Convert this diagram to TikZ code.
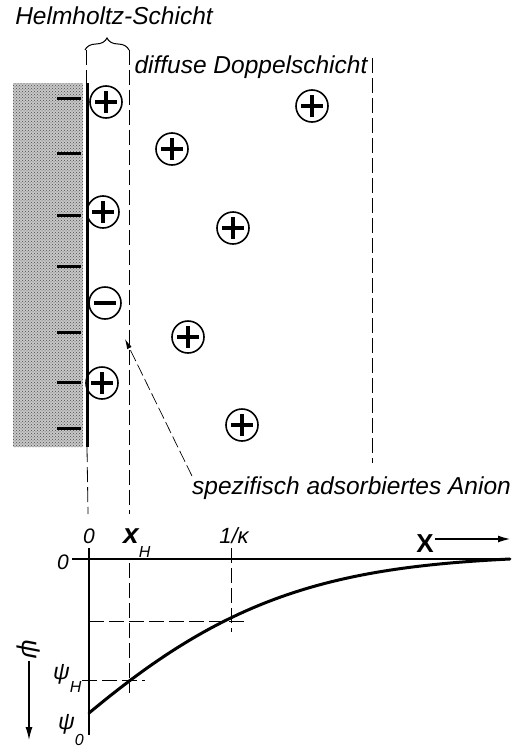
\documentclass[tikz,border=0pt]{standalone}
\usepackage{fontspec}
\setmainfont{Liberation Sans}
\usetikzlibrary{arrows.meta,decorations.pathreplacing,patterns}

\begin{document}
\begin{tikzpicture}[x=1pt,y=-1pt,
   font=\fontsize{24.5}{27}\selectfont\itshape,
   guide/.style={line width=0.8pt,dash pattern=on 15pt off 5pt},
   axisline/.style={line width=2.4pt},
   ion/.style={circle,draw,line width=1.6pt,minimum size=32pt,inner sep=0pt},
   cation/.style={ion,path picture={
       \draw[line width=3.2pt] ([xshift=-11pt]path picture bounding box.center) -- ++(22pt,0pt)
                               ([yshift=-11pt]path picture bounding box.center) -- ++(0pt,22pt);}},
   anion/.style={ion,path picture={
       \draw[line width=3.2pt] ([xshift=-11pt]path picture bounding box.center) -- ++(22pt,0pt);}}]
  \fill[white] (0,0) rectangle (513,747);
  \useasboundingbox (0,0) rectangle (513,747);

  % electrode with its negative charges
  \fill[black!22] (13,83) rectangle (83,447);
  \fill[pattern=crosshatch dots,pattern color=black!70] (13,83) rectangle (83,447);
  \draw[line width=3pt] (87,83) -- (87,447);
  \foreach \y in {98,153,215,266,332,382,428}
    \draw[line width=3pt] (57,\y) -- (81,\y);

  % layer boundaries
  \draw[guide] (86,50) -- (86,83);
  \draw[guide] (87,447) -- (88,514);
  \draw[guide] (129,50) -- (129,514);
  \draw[guide] (372,58) -- (372,463);
  \draw[decorate,decoration={brace,amplitude=12pt},line width=1pt] (85,50) -- (129,50);

  \node[anchor=base] (helm) at (114,24) {Helmholtz-Schicht};
  \node[anchor=base west] (diff) at (131,73) {diffuse Doppelschicht};

  % ions
  \node[cation] (c1) at (106,102) {};
  \node[cation] (c2) at (172,149) {};
  \node[cation] (c3) at (312,106) {};
  \node[cation] (c4) at (103,212) {};
  \node[cation] (c5) at (233,228) {};
  \node[anion]  (a1) at (105,303) {};
  \node[cation] (c6) at (188,337) {};
  \node[cation] (c7) at (102,383) {};
  \node[cation] (c8) at (242,425) {};

  \node[anchor=base west,inner sep=0pt] (spez) at (192,494) {spezifisch adsorbiertes Anion};
  \coordinate (tip) at (125,339);
  \draw[line width=0.7pt,dash pattern=on 12pt off 4pt,-{Latex[length=10pt,width=5pt]}]
    (spez.north west) -- (tip);

  % potential profile
  \draw[axisline] (72,559) -- (510,559);
  \draw[axisline] (89,548) -- (89,735);
  \draw[guide] (231,548) -- (231,632);
  \draw[guide] (89,621) -- (247,621);
  \draw[guide] (82,680) -- (145,680);
  \draw[guide] (129,563) -- (129,693);
  \draw[line width=3pt,line cap=round] plot[domain=0:4.21,samples=60]
    ({89+100*\x},{559+154*exp(-(0.5354*\x+0.0914*\x*\x))-0.76*\x});

  \node[anchor=base,font=\fontsize{21}{21}\selectfont\itshape] (x0) at (89,543) {0};
  \node[anchor=base,font=\fontsize{21}{21}\selectfont\itshape] (y0) at (63,569) {0};
  \node[anchor=base west,inner sep=0pt] (xh) at (123,543)
    {\fontsize{28}{28}\selectfont\bfseries x\raisebox{-14pt}{\fontsize{16}{16}\selectfont\mdseries H}};
  \node[anchor=base,font=\fontsize{22}{22}\selectfont\itshape] (kap) at (234,543) {1/κ};
  \node[anchor=base,inner sep=1pt,font=\fontsize{26}{26}\selectfont\bfseries\upshape] (xlbl) at (425,552) {X};
  \coordinate (xend) at (510,539);
  \draw[line width=1.2pt,-{Latex[length=12pt,width=7pt]}] (xlbl.east |- xend) -- (xend);

  \node[anchor=base west,inner sep=0pt,font=\fontsize{23}{23}\selectfont\itshape] (psih) at (53,679)
    {ψ\raisebox{-13pt}{\fontsize{16}{16}\selectfont H}};
  \node[anchor=base west,inner sep=0pt,font=\fontsize{23}{23}\selectfont\itshape] (psi0) at (58,729)
    {ψ\raisebox{-16pt}{\fontsize{16}{16}\selectfont 0}};
  \node[rotate=-90,inner sep=2pt,font=\fontsize{27}{27}\selectfont\itshape] (psiax) at (29,649) {ψ};
  \coordinate (psiend) at (29,740);
  \draw[line width=1.2pt,-{Latex[length=13pt,width=7pt]}] (psiax.east) -- (psiend);
\end{tikzpicture}
\end{document}
